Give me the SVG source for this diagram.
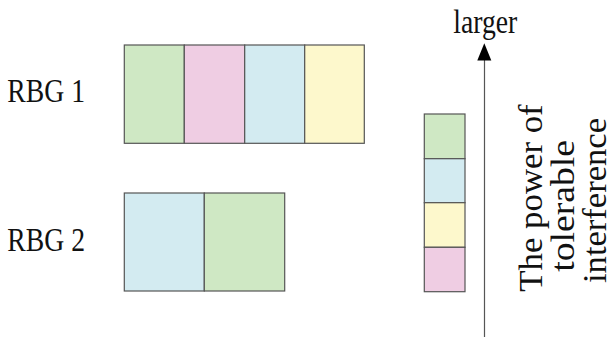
<svg xmlns="http://www.w3.org/2000/svg" width="613" height="337" viewBox="0 0 613 337">
<style>
  .cell{stroke:#555;stroke-width:1.2}
  .g{fill:#cfe8c4}.p{fill:#efcde3}.b{fill:#d3ebf1}.y{fill:#fdf8cc}
  text{font-family:"Liberation Serif","Times New Roman",serif;fill:#111}
  .lbl{font-size:33px}
  .rot{font-size:34px;text-anchor:middle}
</style>
<rect width="613" height="337" fill="#fff"/>
<g id="rbg1">
  <rect class="cell g" x="124.3" y="45" width="60" height="98.3"/>
  <rect class="cell p" x="184.3" y="45" width="60.4" height="98.3"/>
  <rect class="cell b" x="244.7" y="45" width="60" height="98.3"/>
  <rect class="cell y" x="304.7" y="45" width="59.6" height="98.3"/>
  <text class="lbl" x="7.3" y="101.7" textLength="77.7" lengthAdjust="spacingAndGlyphs">RBG 1</text>
</g>
<g id="rbg2">
  <rect class="cell b" x="124.3" y="193" width="80" height="98"/>
  <rect class="cell g" x="204.3" y="193" width="80.4" height="98"/>
  <text class="lbl" x="7.3" y="251" textLength="77.7" lengthAdjust="spacingAndGlyphs">RBG 2</text>
</g>
<g id="stack">
  <rect class="cell g" x="424.3" y="114" width="40.7" height="44.7"/>
  <rect class="cell b" x="424.3" y="158.7" width="40.7" height="44"/>
  <rect class="cell y" x="424.3" y="202.7" width="40.7" height="44.6"/>
  <rect class="cell p" x="424.3" y="247.3" width="40.7" height="44.4"/>
</g>
<g id="connectors">
  <line x1="484.5" y1="337" x2="484.5" y2="60" stroke="#555" stroke-width="1.2"/>
  <path d="M477.3,60.5 L484.3,43.3 L491.3,60.5 Z" fill="#000"/>
</g>
<g id="axis-labels">
  <text x="453.3" y="33" style="font-size:34px" textLength="64" lengthAdjust="spacingAndGlyphs">larger</text>
  <text class="rot" transform="translate(541.5,198) rotate(-90)" textLength="187.4" lengthAdjust="spacingAndGlyphs">The power of</text>
  <text class="rot" transform="translate(574,205.9) rotate(-90)" textLength="131.7" lengthAdjust="spacingAndGlyphs">tolerable</text>
  <text class="rot" transform="translate(605.5,200.5) rotate(-90)" textLength="165" lengthAdjust="spacingAndGlyphs">interference</text>
</g>
</svg>
